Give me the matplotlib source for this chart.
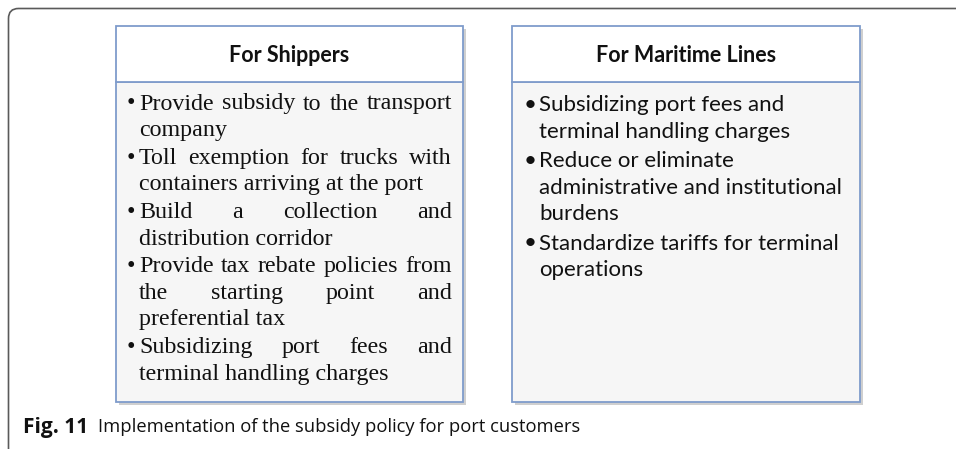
import matplotlib
matplotlib.use("Agg")
import matplotlib.pyplot as plt
from matplotlib.patches import Rectangle
from matplotlib.path import Path
from matplotlib.patches import PathPatch

# box titles
titles = ["For Shippers", "For Maritime Lines"]

# bullet items, already broken into lines as in the figure
shipper_items = [
    ["Provide subsidy to the transport", "company"],
    ["Toll exemption for trucks with", "containers arriving at the port"],
    ["Build a collection and", "distribution corridor"],
    ["Provide tax rebate policies from", "the starting point and", "preferential tax"],
    ["Subsidizing port fees and", "terminal handling charges"],
]
maritime_items = [
    ["Subsidizing port fees and", "terminal handling charges"],
    ["Reduce or eliminate", "administrative and institutional", "burdens"],
    ["Standardize tariffs for terminal", "operations"],
]

caption_bold = "Fig. 11"
caption_text = "Implementation of the subsidy policy for port customers"

W, H = 956, 451
fig = plt.figure(figsize=(W / 100, H / 100), dpi=100)
ax = fig.add_axes([0, 0, 1, 1])
ax.set_xlim(0, W)
ax.set_ylim(H, 0)
ax.axis("off")

# outer frame: top and left edges with rounded corner
r = 10
verts = [(8.5, 449), (8.5, 8.5 + r), (8.5, 8.5), (8.5 + r, 8.5), (W, 8.5)]
codes = [Path.MOVETO, Path.LINETO, Path.CURVE3, Path.CURVE3, Path.LINETO]
ax.add_patch(PathPatch(Path(verts, codes), fill=False, ec="#5a5a5a", lw=1.2))

border = "#7f9ccb"


def draw_box(x0, x1, title):
    top, mid, bot = 26, 82, 402
    # shadow
    ax.add_patch(Rectangle((x0 + 3, top + 3), x1 - x0, bot - top,
                           fc="#cfcfcf", ec="none", zorder=1))
    ax.add_patch(Rectangle((x0, mid), x1 - x0, bot - mid,
                           fc="#f6f6f6", ec=border, lw=1.3, zorder=2))
    ax.add_patch(Rectangle((x0, top), x1 - x0, mid - top,
                           fc="white", ec=border, lw=1.3, zorder=2))
    ax.text((x0 + x1) / 2, (top + mid) / 2 + 1, title, ha="center", va="center",
            family="Lato", weight="bold", fontsize=15.5, color="#111111", zorder=3)


draw_box(116, 463, titles[0])
draw_box(512, 860, titles[1])

fig.canvas.draw()
renderer = fig.canvas.get_renderer()


def text_width(s, **kw):
    t = ax.text(0, 0, s, **kw)
    bb = t.get_window_extent(renderer)
    t.remove()
    return bb.width


def justified(line, x0, x1, y, **kw):
    words = line.split()
    widths = [text_width(w, **kw) for w in words]
    gap = (x1 - x0 - sum(widths)) / (len(words) - 1)
    x = x0
    for w, wd in zip(words, widths):
        ax.text(x, y, w, ha="left", va="center", zorder=3, **kw)
        x += wd + gap


serif = dict(family="Liberation Serif", fontsize=17.3, color="#111111")
y = 104
for item in shipper_items:
    ax.text(127, y, "•", ha="left", va="center", zorder=3, **serif)
    for i, line in enumerate(item):
        if i < len(item) - 1:
            justified(line, 139, 452, y, **serif)
        else:
            ax.text(139, y, line, ha="left", va="center", zorder=3, **serif)
        y += 26.5
    y += 1.3

sans = dict(family="Lato", fontsize=16, color="#111111")
y = 105
for item in maritime_items:
    ax.text(524, y, "•", ha="left", va="center", zorder=3, **sans)
    for line in item:
        ax.text(539, y, line, ha="left", va="center", zorder=3, **sans)
        y += 26.5
    y += 3

ax.text(23, 427, caption_bold, ha="left", va="center", family="Open Sans",
        weight="bold", fontsize=15, color="#111111")
ax.text(98, 427, caption_text, ha="left", va="center", family="Open Sans",
        fontsize=13.2, color="#111111")

fig.savefig("out.png", dpi=100)
